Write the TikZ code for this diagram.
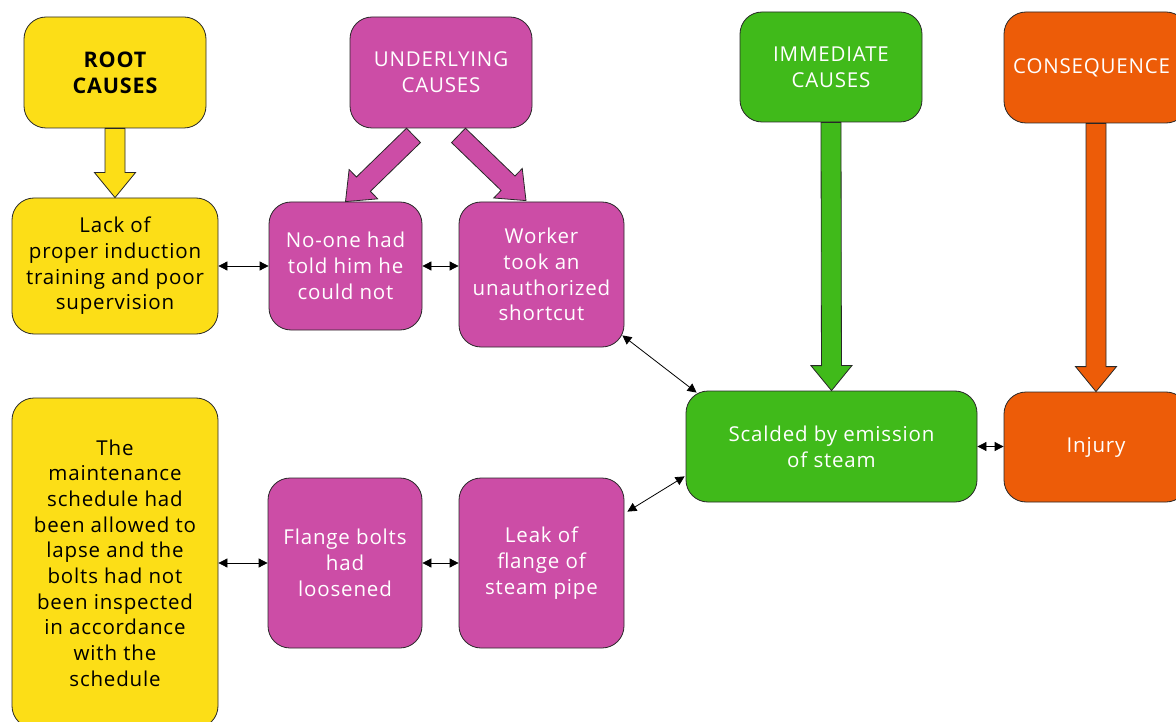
\documentclass[tikz,border=0pt]{standalone}
\usepackage{fontspec}
\setmainfont{Open Sans}[LetterSpace=4]
\usetikzlibrary{calc,arrows.meta}
\definecolor{cyel}{RGB}{252,222,23}
\definecolor{cmag}{RGB}{204,77,166}
\definecolor{cgrn}{RGB}{64,186,26}
\definecolor{corg}{RGB}{237,92,8}
\definecolor{edge}{RGB}{40,40,40}
\newcommand\fatarrow[3]{%
  \coordinate (fa-c) at ($(#2)!25pt!(#1)$);
  \filldraw[fill=#3, draw=edge, line width=0.8pt]
    ($(#1)!10pt!90:(#2)$) -- ($(fa-c)!10pt!90:(#2)$) -- ($(fa-c)!20.5pt!90:(#2)$)
    -- (#2) -- ($(fa-c)!20.5pt!-90:(#2)$) -- ($(fa-c)!10pt!-90:(#2)$)
    -- ($(#1)!10pt!-90:(#2)$) -- cycle;}
\begin{document}
\begin{tikzpicture}[x=1pt,y=-1pt,
  box/.style={draw=edge, line width=0.8pt, rounded corners=22pt, inner sep=0pt,
    align=center, font=\fontsize{20.5}{25.7}\selectfont},
  ybox/.style={box, fill=cyel, text=black},
  mbox/.style={box, fill=cmag, text=white},
  gbox/.style={box, fill=cgrn, text=white},
  obox/.style={box, fill=corg, text=white},
  dbl/.style={draw=black, line width=0.8pt,
    {Triangle[length=9pt,width=9pt]}-{Triangle[length=9pt,width=9pt]}}]
\useasboundingbox (0,0) rectangle (1176,722);
\begin{scope}
\clip (0,0) rectangle (1176,722);
% boxes
\node[ybox, minimum width=182pt, minimum height=111pt, font=\fontsize{21.5}{26}\selectfont\bfseries] (root) at (115,72.5) {ROOT\\CAUSES};
\node[mbox, minimum width=182pt, minimum height=111pt] (under) at (441,72.5) {UNDERLYING\\CAUSES};
\node[gbox, minimum width=182pt, minimum height=110pt] (imm) at (831,67) {IMMEDIATE\\CAUSES};
\node[obox, minimum width=184pt, minimum height=111pt] (cons) at (1096,67.5) {};
\node[anchor=west, text=white, inner sep=0pt, font=\fontsize{20.5}{25.7}\selectfont] (constext) at (1013,67.5) {CONSEQUENCE};
\node[ybox, minimum width=206pt, minimum height=136pt] (lack) at (115,266) {Lack of\\proper induction\\training and poor\\supervision};
\node[mbox, minimum width=153pt, minimum height=128pt] (noone) at (345.5,266) {No-one had\\told him he\\could not};
\node[mbox, minimum width=165pt, minimum height=145pt] (worker) at (541.5,274.5) {Worker\\took an\\unauthorized\\shortcut};
\node[gbox, minimum width=291pt, minimum height=111pt] (scald) at (831.5,446.5) {Scalded by emission\\of steam};
\node[obox, minimum width=184pt, minimum height=110pt] (injury) at (1096,447) {Injury};
\node[ybox, minimum width=206pt, minimum height=330pt] (maint) at (115,563) {The\\maintenance\\schedule had\\been allowed to\\lapse and the\\bolts had not\\been inspected\\in accordance\\with the\\schedule};
\node[mbox, minimum width=154pt, minimum height=170pt] (flange) at (345,563) {Flange bolts\\had\\loosened};
\node[mbox, minimum width=165pt, minimum height=170pt] (leak) at (541.5,563) {Leak of\\flange of\\steam pipe};
% fat arrows
\fatarrow{root.south}{lack.north}{cyel}
\coordinate (ua1) at ($(under.south)+(-27.5,7)$);
\coordinate (ub1) at (noone.north);
\coordinate (ua2) at ($(under.south)+(17.5,7)$);
\coordinate (ub2) at ($(worker.north)+(-15.5,-1)$);
\fatarrow{ua1}{ub1}{cmag}
\fatarrow{ua2}{ub2}{cmag}
\fatarrow{imm.south}{scald.north}{cgrn}
\fatarrow{cons.south}{injury.north}{corg}
% thin double arrows
\draw[dbl] (lack.east) -- (noone.west);
\draw[dbl] (noone.east) -- (noone.east -| worker.west);
\draw[dbl] ($(worker.south east)+(-2,-12)$) -- ($(scald.north west)+(11,2)$);
\draw[dbl] ($(leak.north east)+(3,34)$) -- ($(scald.south west)+(-1,-26)$);
\draw[dbl] (scald.east) -- (scald.east -| injury.west);
\draw[dbl] (maint.east) -- (flange.west);
\draw[dbl] (flange.east) -- (leak.west);
\end{scope}
\end{tikzpicture}
\end{document}
